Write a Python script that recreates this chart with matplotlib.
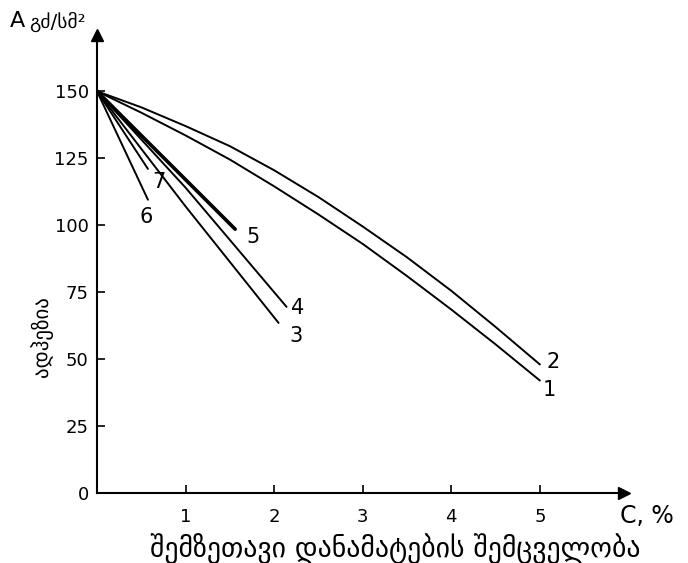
import matplotlib
matplotlib.use("Agg")
import matplotlib.pyplot as plt

# concentration of additive, %  and adhesion, gf/cm2
c1 = [0, 0.5, 1, 1.5, 2, 2.5, 3, 3.5, 4, 4.5, 5]
a1 = [150, 142, 133.5, 124.5, 114.5, 104, 93, 81, 68.5, 55.5, 42]
c2 = [0, 0.5, 1, 1.5, 2, 2.5, 3, 3.5, 4, 4.5, 5]
a2 = [150, 144, 137, 129.5, 120.5, 110.5, 99.5, 88, 75.5, 62, 48]
c3 = [0, 1, 2.05]
a3 = [150, 107, 63.5]
c4 = [0, 1, 2.14]
a4 = [150, 114, 69.5]
c5 = [0, 1, 1.56]
a5 = [150, 117, 98.5]
c6 = [0, 0.575]
a6 = [150, 109.5]
c7 = [0, 0.575]
a7 = [150, 121]

curves = [(c1, a1, "1"), (c2, a2, "2"), (c3, a3, "3"), (c4, a4, "4"),
          (c5, a5, "5"), (c6, a6, "6"), (c7, a7, "7")]
# where the curve numbers sit
label_pos = {"1": (5.11, 38.5), "2": (5.15, 49), "3": (2.25, 58.5),
             "4": (2.27, 69), "5": (1.76, 95.5), "6": (0.56, 103), "7": (0.70, 116)}

xticks = [1, 2, 3, 4, 5]
yticks = [0, 25, 50, 75, 100, 125, 150]

fig = plt.figure(figsize=(6.88, 5.63), dpi=100)
ax = fig.add_axes([97 / 688, 70 / 563, 527 / 688, 458 / 563])

for c, a, name in curves:
    lw = 2.6 if name == "5" else 1.4
    ax.plot(c, a, color="black", lw=lw, solid_capstyle="round")
    ax.text(*label_pos[name], name, fontsize=15, ha="center", va="center")

ax.set_xlim(0, 5.95)
ax.set_ylim(0, 171)
ax.spines["top"].set_visible(False)
ax.spines["right"].set_visible(False)
ax.spines["left"].set_linewidth(1.5)
ax.spines["bottom"].set_linewidth(1.5)

# arrow heads at ends of the axes
ax.plot(1, 0, ">k", ms=8, transform=ax.get_yaxis_transform(), clip_on=False)
ax.plot(0, 1, "^k", ms=8, transform=ax.get_xaxis_transform(), clip_on=False)

ax.set_xticks(xticks)
ax.set_yticks(yticks)
ax.tick_params(direction="in", length=6, width=1.2, labelsize=13)
ax.tick_params(axis="x", pad=11)
ax.tick_params(axis="y", pad=6)

fig.text(10 / 688, 1 - 21 / 563, "A", fontsize=16, va="center")
fig.text(29 / 688, 1 - 22 / 563, "გძ/სმ²", fontsize=14, va="center")
fig.text(647 / 688, 1 - 516 / 563, "C, %", fontsize=17, ha="center", va="center")
fig.text(395 / 688, 1 - 549 / 563, "შემზეთავი დანამატების შემცველობა",
         fontsize=20, ha="center", va="center")
fig.text(42 / 688, 1 - 337 / 563, "ადჰეზია", fontsize=15, rotation=90,
         ha="center", va="center")

fig.savefig("out.png", dpi=100)
